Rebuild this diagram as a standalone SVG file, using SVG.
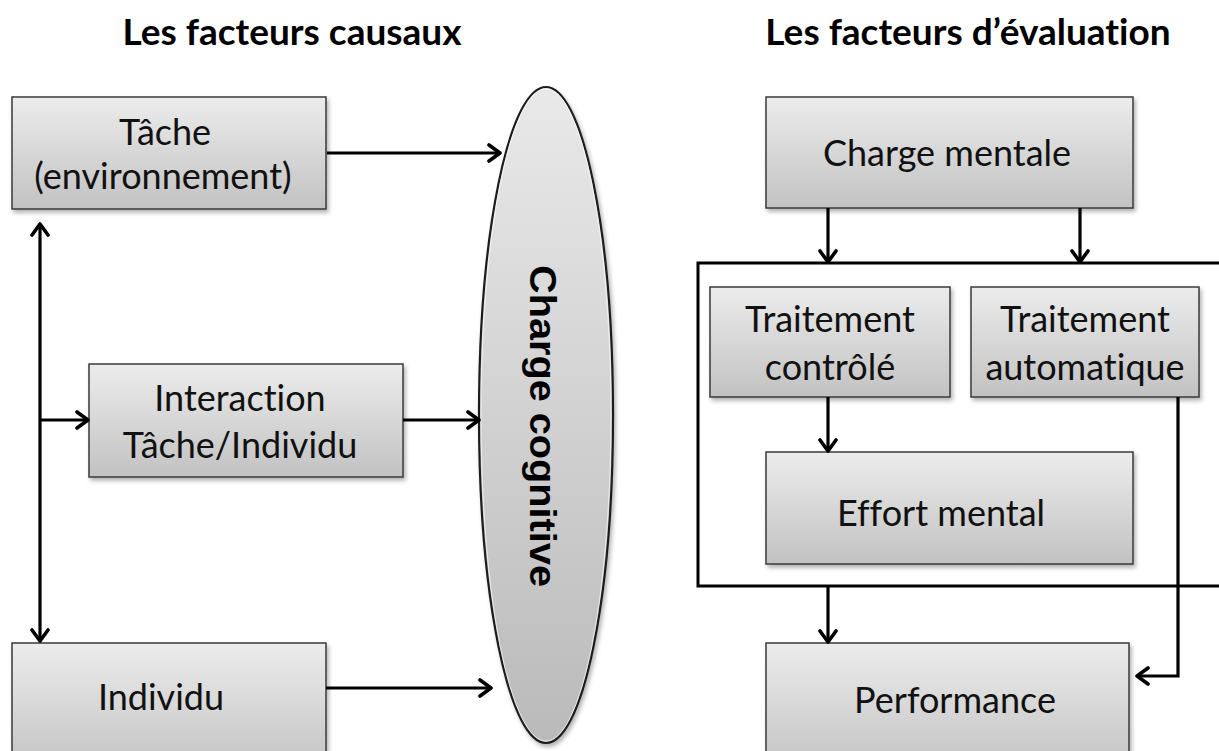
<svg xmlns="http://www.w3.org/2000/svg" width="1219" height="751" viewBox="0 0 1219 751">
  <style>
    .title { font-family: Lato, "Open Sans", sans-serif; font-weight: bold; font-size: 37px; fill: #000; text-anchor: middle; font-variant-ligatures: none; }
    .label { font-family: Lato, "Open Sans", sans-serif; font-size: 36px; fill: #111; text-anchor: middle; font-variant-ligatures: none; }
    .vert { font-family: "Liberation Sans", Arial, sans-serif; font-weight: bold; font-size: 37px; fill: #000; text-anchor: middle; }
    .box { fill: url(#boxFill); stroke: #3a3a3a; stroke-width: 1.5; filter: url(#shadow); }
    .wire { fill: none; stroke: #000; stroke-width: 3.2; }
    .frame { fill: none; stroke: #000; stroke-width: 3; }
  </style>
  <defs>
    <linearGradient id="boxFill" x1="0" y1="0" x2="0" y2="1">
      <stop offset="0" stop-color="#ececec"/>
      <stop offset="1" stop-color="#c2c2c2"/>
    </linearGradient>
    <linearGradient id="ellFill" x1="0" y1="0" x2="0" y2="1">
      <stop offset="0" stop-color="#e9e9e9"/>
      <stop offset="1" stop-color="#bababa"/>
    </linearGradient>
    <filter id="shadow" x="-10%" y="-10%" width="125%" height="130%">
      <feDropShadow dx="2" dy="3" stdDeviation="2" flood-color="#000" flood-opacity="0.3"/>
    </filter>
    <marker id="arrow" viewBox="0 0 16 20" refX="14" refY="10" markerWidth="16" markerHeight="20" markerUnits="userSpaceOnUse" orient="auto-start-reverse">
      <polyline points="3,2 14,10 3,18" fill="none" stroke="#000" stroke-width="3.6" stroke-linecap="round" stroke-linejoin="round"/>
    </marker>
  </defs>

  <rect width="1219" height="751" fill="#fff"/>

  <!-- headings -->
  <text class="title" x="292" y="45">Les facteurs causaux</text>
  <text class="title" x="968" y="45">Les facteurs d’évaluation</text>

  <!-- container around the two processing modes -->
  <rect id="processing-frame" class="frame" x="698" y="263" width="540" height="323"/>

  <!-- causal factors -->
  <g id="tache">
    <rect class="box" x="12" y="97" width="314" height="112"/>
    <text class="label" x="165" y="145">Tâche</text>
    <text class="label" x="163" y="189">(environnement)</text>
  </g>
  <g id="interaction">
    <rect class="box" x="89" y="364" width="314" height="113"/>
    <text class="label" x="240" y="411">Interaction</text>
    <text class="label" x="240" y="458">Tâche/Individu</text>
  </g>
  <g id="individu">
    <rect class="box" x="12" y="643" width="314" height="130"/>
    <text class="label" x="161" y="710">Individu</text>
  </g>
  <g id="charge-cognitive">
    <ellipse cx="546" cy="415" rx="67" ry="328" fill="url(#ellFill)" stroke="#1e1e1e" stroke-width="2.2" filter="url(#shadow)"/>
    <ellipse cx="546" cy="415" rx="65" ry="326" fill="none" stroke="#fff" stroke-width="0.8" opacity="0.8"/>
    <text class="vert" transform="translate(530,426) rotate(90)" textLength="322" lengthAdjust="spacingAndGlyphs">Charge cognitive</text>
  </g>

  <!-- evaluation factors -->
  <g id="charge-mentale">
    <rect class="box" x="766" y="97" width="367" height="111"/>
    <text class="label" x="947" y="166">Charge mentale</text>
  </g>
  <g id="traitement-controle">
    <rect class="box" x="710" y="287" width="240" height="110"/>
    <text class="label" x="830" y="332">Traitement</text>
    <text class="label" x="830" y="380">contrôlé</text>
  </g>
  <g id="traitement-automatique">
    <rect class="box" x="971" y="287" width="228" height="110"/>
    <text class="label" x="1085" y="332">Traitement</text>
    <text class="label" x="1085" y="380">automatique</text>
  </g>
  <g id="effort-mental">
    <rect class="box" x="766" y="452" width="367" height="112"/>
    <text class="label" x="941" y="526">Effort mental</text>
  </g>
  <g id="performance">
    <rect class="box" x="766" y="643" width="363" height="130"/>
    <text class="label" x="955" y="713">Performance</text>
  </g>

  <!-- connectors -->
  <g id="connectors">
    <line class="wire" x1="40" y1="224" x2="40" y2="641" marker-start="url(#arrow)" marker-end="url(#arrow)"/>
    <line class="wire" x1="40" y1="420" x2="88" y2="420" marker-end="url(#arrow)"/>
    <line class="wire" x1="327" y1="153" x2="500" y2="153" marker-end="url(#arrow)"/>
    <line class="wire" x1="403" y1="420" x2="479" y2="420" marker-end="url(#arrow)"/>
    <line class="wire" x1="326" y1="688" x2="491" y2="688" marker-end="url(#arrow)"/>

    <line class="wire" x1="828" y1="208" x2="828" y2="262" marker-end="url(#arrow)"/>
    <line class="wire" x1="1080" y1="208" x2="1080" y2="262" marker-end="url(#arrow)"/>
    <line class="wire" x1="828" y1="397" x2="828" y2="451" marker-end="url(#arrow)"/>
    <line class="wire" x1="828" y1="586" x2="828" y2="642" marker-end="url(#arrow)"/>
    <polyline class="wire" points="1178,397 1178,676 1137,676" marker-end="url(#arrow)"/>
  </g>
</svg>
